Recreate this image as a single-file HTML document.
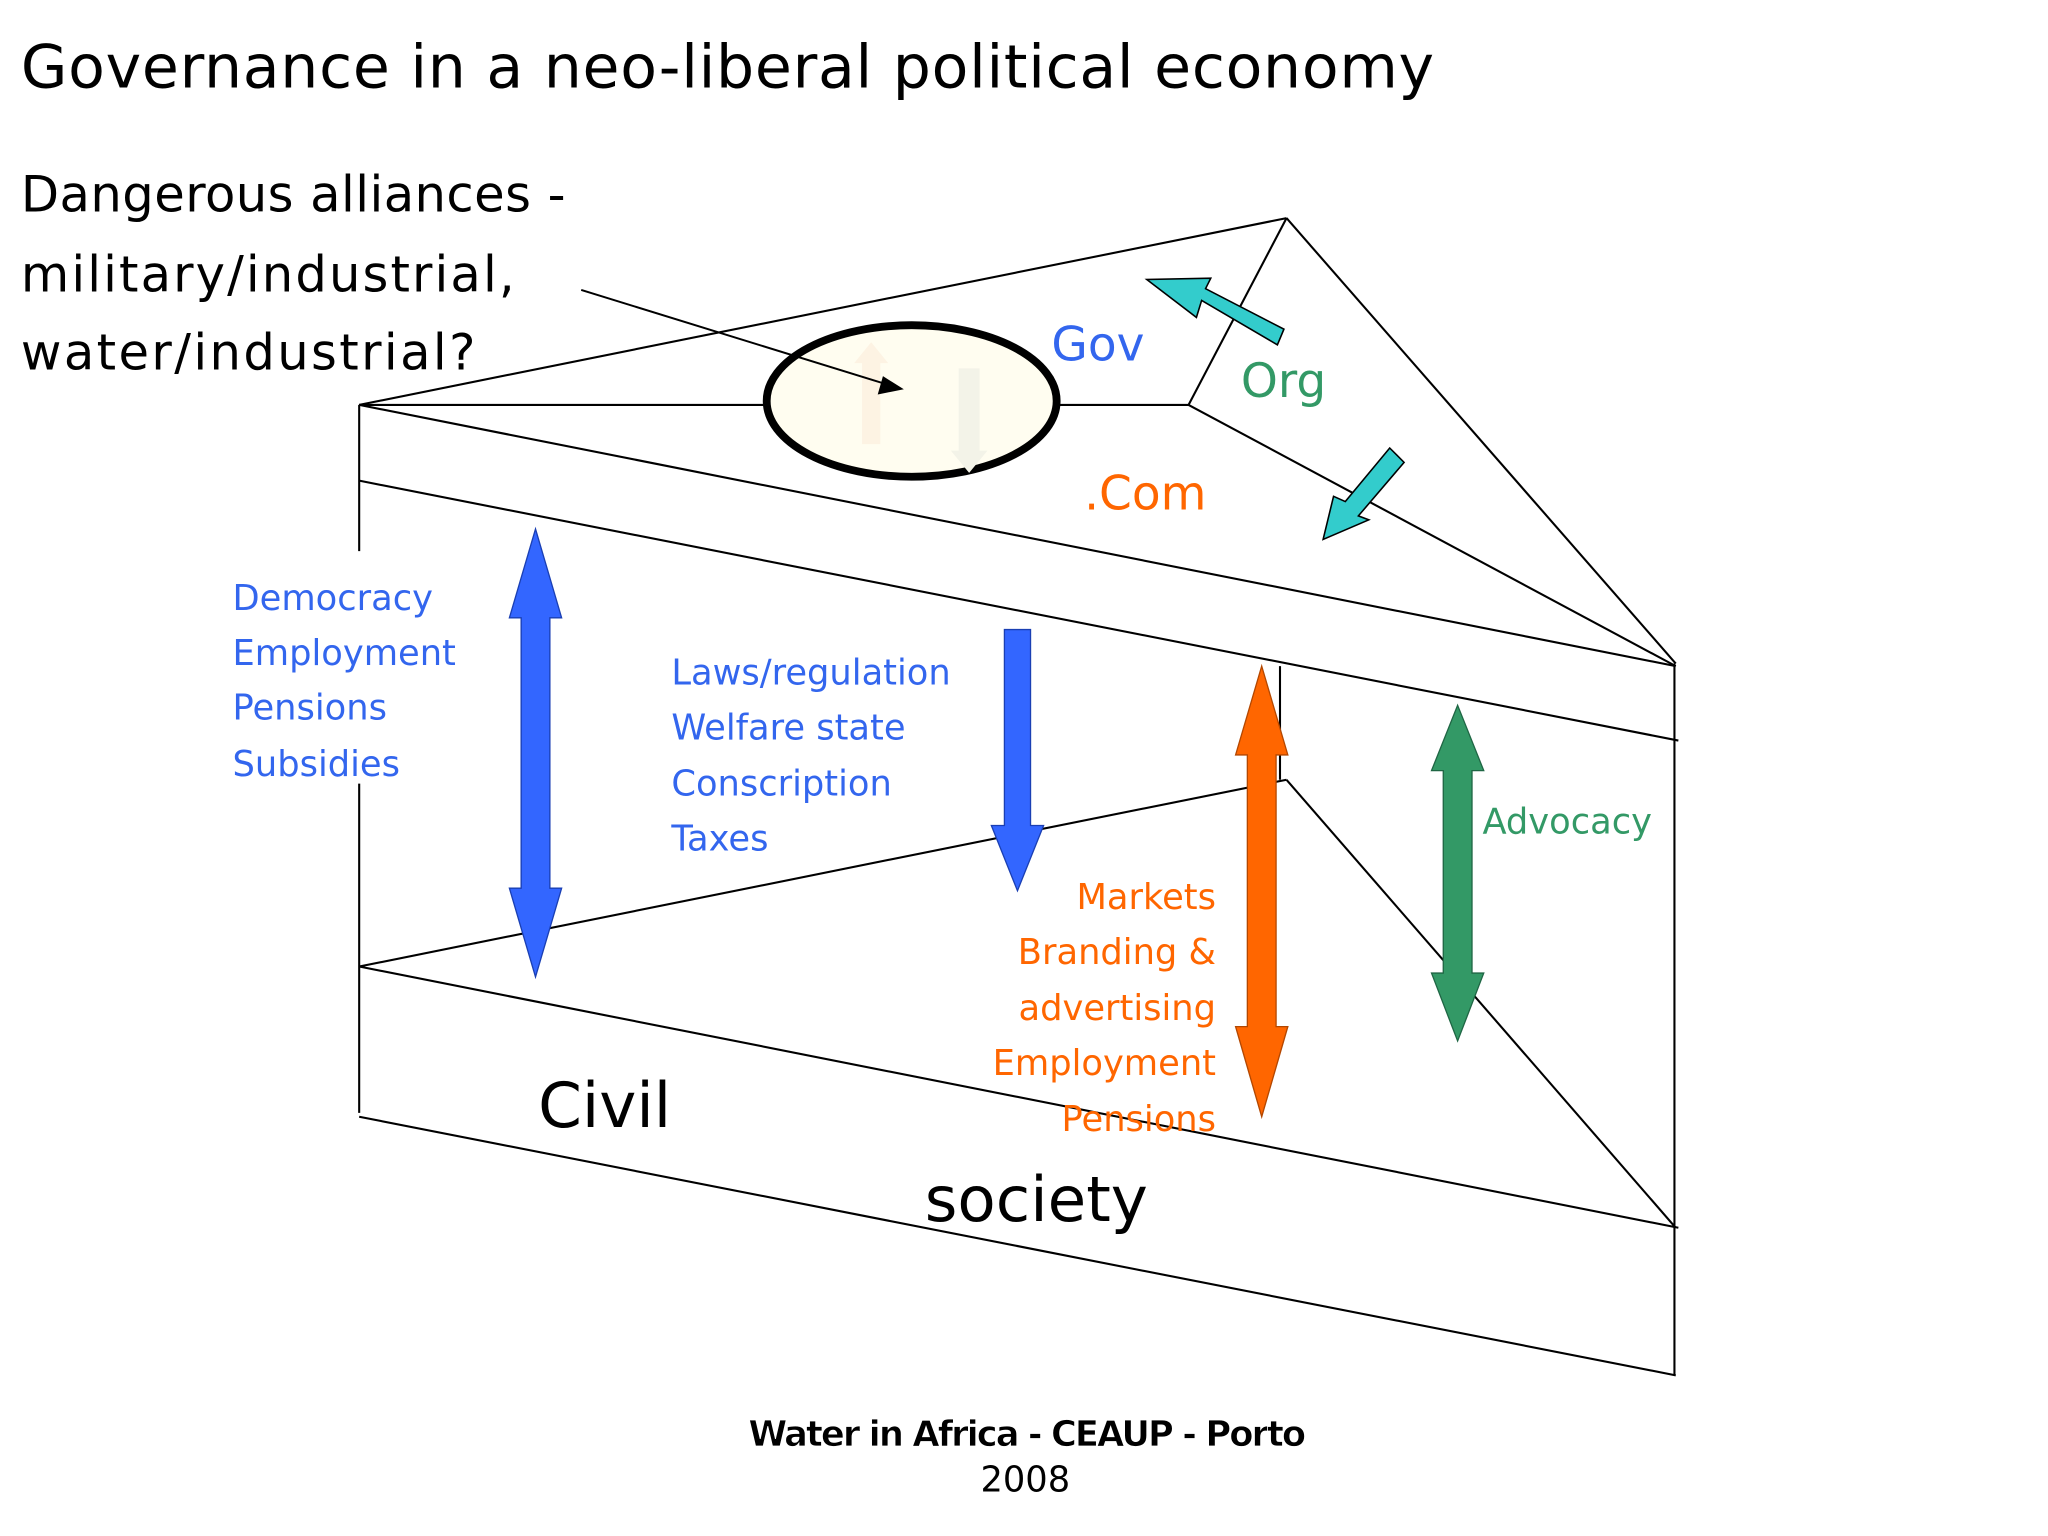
<!DOCTYPE html>
<html><head><meta charset="utf-8"><style>
html,body{margin:0;padding:0;background:#fff;}
svg{display:block}
text{font-family:"DejaVu Sans","Liberation Sans",sans-serif;}
</style></head><body>
<svg width="2048" height="1536" viewBox="0 0 1568 1176" xmlns="http://www.w3.org/2000/svg">
<rect width="1568" height="1176" fill="#fff"/>
<g stroke="#000" stroke-width="1.6" fill="none">
<line x1="275" y1="310" x2="985" y2="167"/>
<line x1="985" y1="167" x2="1283" y2="508"/>
<line x1="275" y1="310" x2="910" y2="310"/>
<line x1="910" y1="310" x2="985" y2="167"/>
<line x1="275" y1="310" x2="1283" y2="510"/>
<line x1="910" y1="310" x2="1283" y2="510"/>
<line x1="275" y1="368" x2="1285" y2="567"/>
<line x1="275" y1="310" x2="275" y2="422"/>
<line x1="275" y1="600" x2="275" y2="852"/>
<line x1="1282" y1="508" x2="1282" y2="1053"/>
<line x1="275" y1="740" x2="985" y2="597"/>
<line x1="985" y1="597" x2="1283" y2="940"/>
<line x1="275" y1="740" x2="1285" y2="940"/>
<line x1="275" y1="855" x2="1283" y2="1053"/>
<line x1="980" y1="510" x2="980" y2="597"/>
</g>
<ellipse cx="698" cy="307" rx="111" ry="58" fill="#fffdf0" stroke="#000" stroke-width="6"/>
<polygon points="667,262 680,278 674,278 674,340 660,340 660,278 654,278" fill="#fdf3e3"/>
<polygon points="734,282 750,282 750,345 756,345 742,362 728,345 734,345" fill="#f3f3e8"/>
<line x1="445" y1="222" x2="678" y2="294" stroke="#000" stroke-width="1.5"/>
<polygon points="692,298 672,302 676,288" fill="#000"/>
<polygon points="410,405 430,473 421,473 421,680 430,680 410,748 390,680 399,680 399,473 390,473" fill="#3366ff" stroke="#1a3fb3" stroke-width="1"/>
<polygon points="769,482 789,482 789,632 799,632 779,682 759,632 769,632" fill="#3366ff" stroke="#1a3fb3" stroke-width="1"/>
<polygon points="966,510 986,578 977,578 977,786 986,786 966,855 946,786 955,786 955,578 946,578" fill="#ff6600" stroke="#b34700" stroke-width="1"/>
<polygon points="1116,540 1136,590 1127,590 1127,745 1136,745 1116,797 1096,745 1105,745 1105,590 1096,590" fill="#339966" stroke="#1f6644" stroke-width="1"/>
<polygon points="983,252 978,264 920,230 916,243 878,214 927,213 923,221" fill="#33cccc" stroke="#000" stroke-width="1.2"/>
<polygon points="1064,343 1075,354 1040,395 1048,398 1013,413 1021,380 1030,384" fill="#33cccc" stroke="#000" stroke-width="1.2"/>
<text x="16" y="67" font-size="46" fill="#000" textLength="1082">Governance in a neo-liberal political economy</text>
<text x="16" y="162" font-size="38" fill="#000" textLength="417">Dangerous alliances -</text>
<text x="16" y="223" font-size="38" fill="#000" textLength="378">military/industrial,</text>
<text x="16" y="283" font-size="38" fill="#000" textLength="348">water/industrial?</text>
<text x="805" y="276" font-size="36" fill="#3366ee">Gov</text>
<text x="950" y="304" font-size="36" fill="#339966">Org</text>
<text x="830" y="390" font-size="36" fill="#ff6600">.Com</text>
<g font-size="27" fill="#3366ee">
<text x="178" y="467">Democracy</text>
<text x="178" y="509">Employment</text>
<text x="178" y="551">Pensions</text>
<text x="178" y="594">Subsidies</text>
<text x="514" y="524">Laws/regulation</text>
<text x="514" y="566">Welfare state</text>
<text x="514" y="609">Conscription</text>
<text x="514" y="651">Taxes</text>
</g>
<g font-size="27" fill="#ff6600" text-anchor="end">
<text x="931" y="696">Markets</text>
<text x="931" y="738">Branding &amp;</text>
<text x="931" y="781">advertising</text>
<text x="931" y="823">Employment</text>
<text x="931" y="866">Pensions</text>
</g>
<text x="1135" y="638" font-size="27" fill="#339966">Advocacy</text>
<text x="412" y="863" font-size="48" fill="#000">Civil</text>
<text x="708" y="935" font-size="48" fill="#000">society</text>
<text x="573" y="1107" font-size="27" fill="#000" font-family="Liberation Sans" font-weight="bold" textLength="427" stroke="#fff" stroke-width="0.6">Water in Africa - CEAUP - Porto</text>
<text x="785" y="1142" font-size="27" fill="#000" text-anchor="middle" font-family="Liberation Sans">2008</text>
</svg>
</body></html>
